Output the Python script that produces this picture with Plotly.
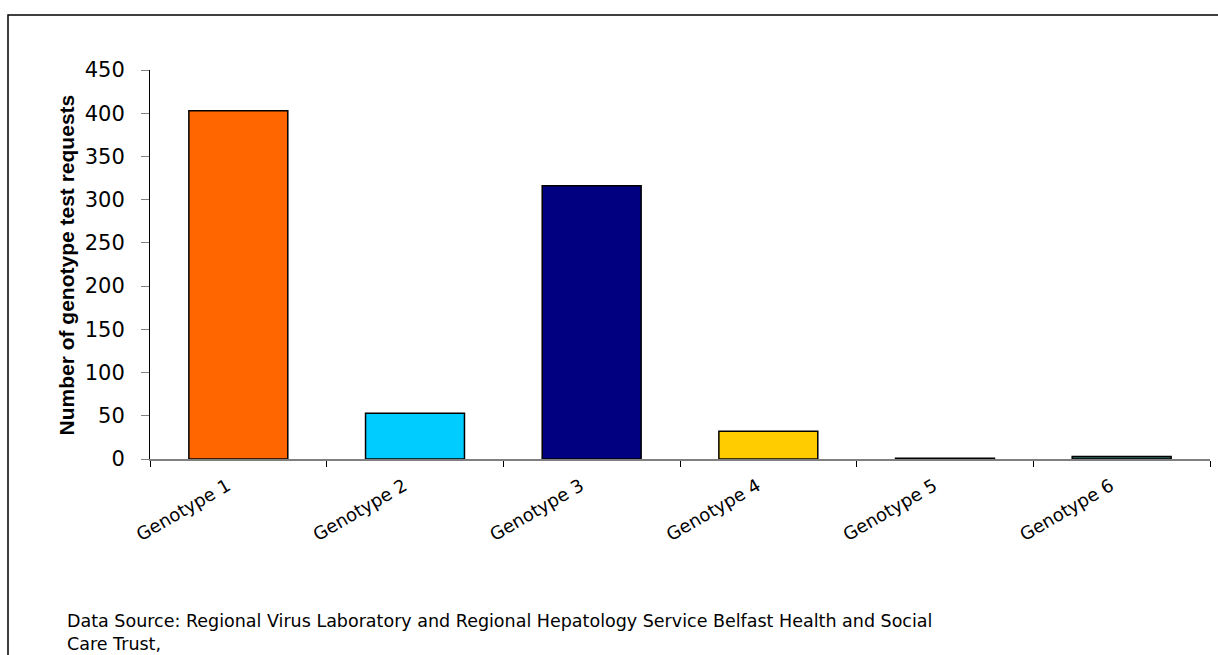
import plotly.graph_objects as go

categories = ["Genotype 1", "Genotype 2", "Genotype 3", "Genotype 4", "Genotype 5", "Genotype 6"]
values = [403, 53, 316, 32, 1, 3]
colors = ["#FF6600", "#00CCFF", "#000080", "#FFCC00", "#000000", "#336666"]
y_ticks = [0, 50, 100, 150, 200, 250, 300, 350, 400, 450]

W, H = 1218, 655
L, R, T, B = 150, 8, 70, 196
pw = W - L - R
ph = H - T - B

def px_x(x):
    return (x - L) / pw

def px_y(y):
    return (H - B - y) / ph

fig = go.Figure(go.Bar(
    x=categories, y=values,
    marker=dict(color=colors, line=dict(color="#000000", width=1.5)),
    width=0.56,
))

fig.update_layout(
    width=W, height=H,
    margin=dict(l=L, r=R, t=T, b=B),
    plot_bgcolor="white", paper_bgcolor="white",
    showlegend=False,
    font=dict(family="DejaVu Sans, Liberation Sans, Arial, sans-serif", color="#000000"),
    xaxis=dict(
        type="category", range=[-0.5, 5.5],
        showline=True, linecolor="#808080", linewidth=1.5,
        ticks="outside", tickson="boundaries", ticklen=6, tickcolor="#000000", tickwidth=1,
        tickangle=-30, tickfont=dict(size=18),
        ticklabelshift=-11, ticklabelstandoff=8,
        showgrid=False, zeroline=False,
    ),
    yaxis=dict(
        range=[0, 450], tickvals=y_ticks,
        showline=True, linecolor="#000000", linewidth=1,
        ticks="outside", ticklen=8, tickcolor="#808080",
        ticklabelstandoff=12,
        tickfont=dict(size=21),
        showgrid=False, zeroline=False,
    ),
    shapes=[dict(
        type="rect", xref="paper", yref="paper",
        x0=px_x(8), x1=px_x(1240), y0=px_y(680), y1=px_y(15),
        line=dict(color="#000000", width=1.5), fillcolor="rgba(0,0,0,0)",
        layer="below",
    )],
    annotations=[
        dict(
            text="<b>Number of genotype test requests</b>",
            textangle=-90, xref="paper", yref="paper",
            x=px_x(52), y=px_y(265), showarrow=False,
            font=dict(family="Liberation Sans, Arial", size=21),
        ),
        dict(
            text="Data Source: Regional Virus Laboratory and Regional Hepatology Service Belfast Health and Social<br>Care Trust,",
            xref="paper", yref="paper", x=px_x(65), y=px_y(609),
            xanchor="left", yanchor="top", align="left", showarrow=False,
            font=dict(size=17.5),
        ),
    ],
)

fig.write_html("out.html", config={"displayModeBar": False},
               post_script="document.body.style.margin='0';")
